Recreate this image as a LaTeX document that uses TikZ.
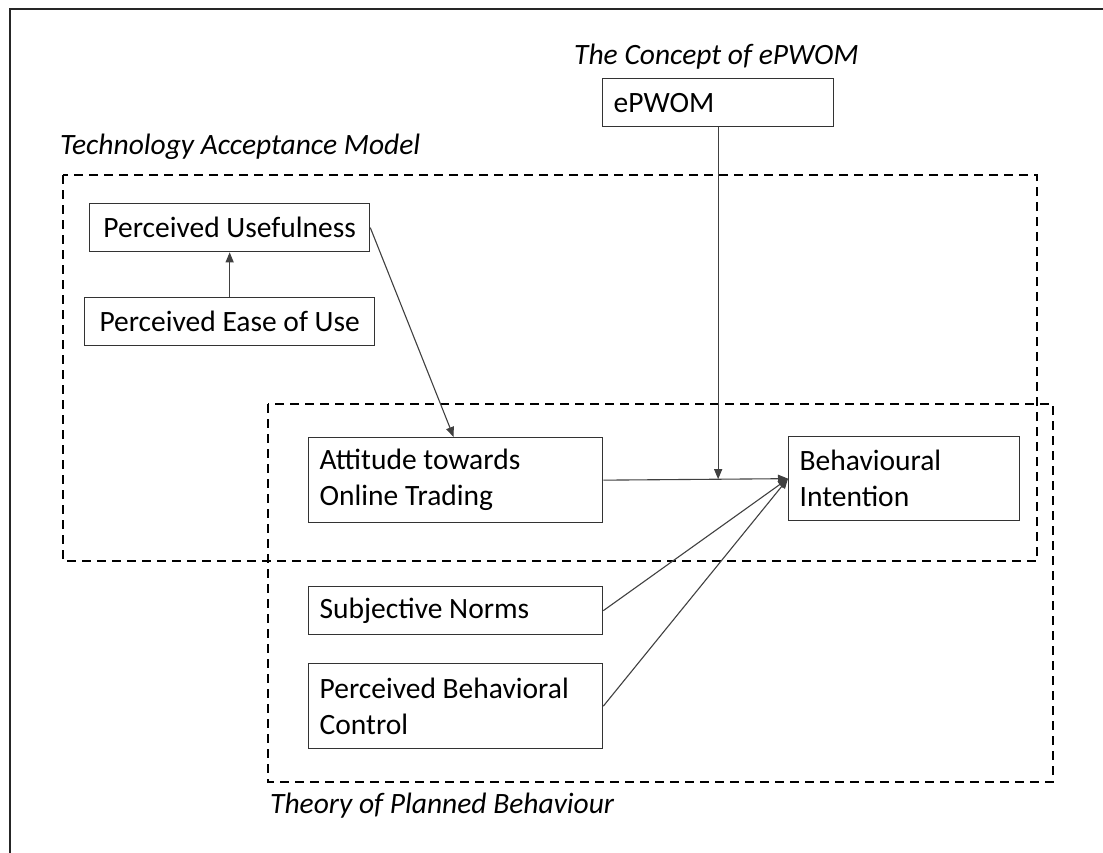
\documentclass[tikz,border=0pt]{standalone}
\usepackage{fontspec}
\setmainfont{Carlito}
\usetikzlibrary{arrows.meta,calc}
\begin{document}
\begin{tikzpicture}[x=1pt,y=-1pt,
  font=\fontsize{29.5}{36}\selectfont,
  box/.style={draw=black!80,line width=1.3pt,rectangle,inner xsep=11pt,inner ysep=0pt,align=flush left,anchor=north west},
  group/.style={draw=black,line width=2pt,dash pattern=on 9pt off 6pt},
  grouplabel/.style={font=\fontsize{29.5}{36}\selectfont\itshape,anchor=base west,inner sep=0pt},
  link/.style={draw=black!75,line width=1.1pt,-{Triangle[length=10pt,width=8pt]}}]
\useasboundingbox (0,0) rectangle (1103,852);
% outer frame (bottom and right edges lie outside the picture)
\draw[line width=2pt,black!85] (10,860) -- (10,9) -- (1110,9);
% groups
\draw[group] (63,175) rectangle (1037,561);
\draw[group] (268,404) rectangle (1053,782);
\node[grouplabel] (tamlab) at (60,154) {Technology Acceptance Model};
\node[grouplabel] (eplab) at (574,64) {The Concept of ePWOM};
\node[grouplabel] (tpblab) at (270,813) {Theory of Planned Behaviour};
% boxes
\node[box,minimum width=231pt,minimum height=48pt,text width=209pt] (ep) at (602,78) {ePWOM};
\node[box,minimum width=280pt,minimum height=48pt,inner xsep=6pt] (pu) at (89,203) {Perceived Usefulness};
\node[box,minimum width=290pt,minimum height=48pt,inner xsep=6pt] (peou) at (84,297) {Perceived Ease of Use};
\node[box,minimum width=294pt,minimum height=85pt,text width=272pt] (att) at (308,437) {Attitude towards\\Online Trading};
\node[box,minimum width=231pt,minimum height=84pt,text width=209pt] (bi) at (788,436) {Behavioural\\Intention};
\node[box,minimum width=294pt,minimum height=48pt,text width=272pt] (sn) at (308,586) {Subjective Norms};
\node[box,minimum width=294pt,minimum height=85pt,text width=272pt] (pbc) at (308,663) {Perceived Behavioral\\Control};
% connectors
\draw[link] (peou.north) -- (pu.south);
\draw[link] (pu.east) -- ($(att.north)+(-2,0)$);
\draw[link] (att.east) -- (bi.west);
\coordinate (mod) at ($(att.east)!(ep.south)!(bi.west)$);
\draw[link] (ep.south) -- (ep.south |- mod);
\draw[link] (sn.east) -- (bi.west);
\draw[link] (pbc.east) -- (bi.west);
\end{tikzpicture}
\end{document}
